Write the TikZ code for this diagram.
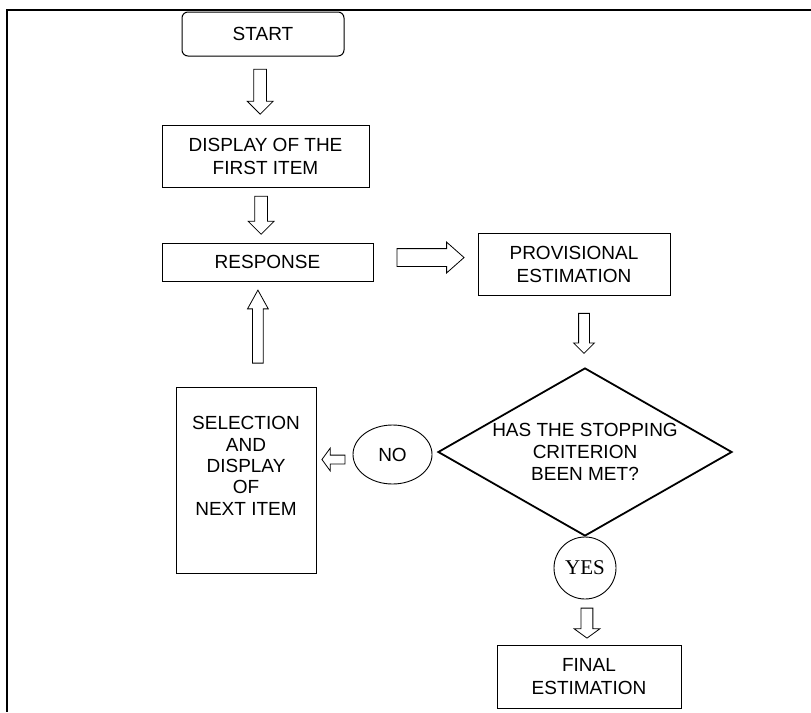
\documentclass[tikz,border=0pt]{standalone}
\usepackage{fontspec}
\setmainfont{Liberation Sans}
\newfontfamily\yesfont{Liberation Serif}
\usetikzlibrary{shapes, shapes.geometric, shapes.arrows, positioning}
\tikzstyle{block}=[draw,fill=white,rectangle,line width=1pt,align=center,inner sep=0pt]
\tikzstyle{every node}=[font=\fontsize{19}{23}\selectfont]
\tikzstyle{blockarrow}=[draw,single arrow,line width=.8pt,inner sep=6pt,minimum width=0pt,single arrow head extend=6.5pt]
\tikzstyle{downarrow}=[blockarrow,shape border rotate=270]
\tikzstyle{uparrow}=[blockarrow,shape border rotate=90]
\tikzstyle{leftarrow}=[blockarrow,shape border rotate=180]
\tikzstyle{rightarrow}=[blockarrow]

\begin{document}
\begin{tikzpicture}[x=1pt,y=-1pt]
  \useasboundingbox (0,0) rectangle (811,712);
  \draw[line width=1.6pt] (811,10) -| (7,712);
  \node[block, rounded corners=6pt, minimum width=162pt, minimum height=44pt] (start) at (263,34) {START};
  \node[block, below of=start, node distance=122pt, xshift=2.5pt, minimum width=207pt, minimum height=62pt] (display) {DISPLAY OF THE\\FIRST ITEM};
  \node[block, below of=display, node distance=106pt, xshift=2pt, minimum width=211pt, minimum height=38pt] (response) {RESPONSE};
  \node[block, right of=response, node distance=306.5pt, yshift=-2pt, minimum width=192pt, minimum height=62pt] (prov) {PROVISIONAL\\ESTIMATION};
  \node[block, diamond, aspect=1.75, line width=1.8pt, font=\fontsize{19}{22}\selectfont, below of=prov, node distance=188pt, xshift=11pt, minimum width=294pt, minimum height=168pt] (crit) {HAS THE STOPPING\\CRITERION\\BEEN MET?};
  \node[draw, circle, line width=.9pt, inner sep=0pt, minimum size=62pt, font=\yesfont\fontsize{21}{21}\selectfont, below of=crit, node distance=116pt] (yes) {YES};
  \node[block, below of=yes, node distance=108.5pt, xshift=4pt, minimum width=184pt, minimum height=63pt] (final) {FINAL\\ESTIMATION};
  \node[draw, ellipse, line width=.9pt, inner sep=0pt, minimum width=79pt, minimum height=59pt, left of=crit, node distance=192.5pt, yshift=-2.5pt] (no) {NO};
  \node[block, left of=no, node distance=146.5pt, yshift=-25.5pt, minimum width=140pt, minimum height=186pt,
    label={[anchor=north, inner sep=0pt, align=center, font=\fontsize{19}{21.3}\selectfont, yshift=-30pt]north:SELECTION\\AND\\DISPLAY\\OF\\NEXT ITEM}] (sel) {};
  % block arrows
  \path (start) -- node[downarrow, minimum height=45pt, xshift=-4pt, yshift=2pt] {} (display);
  \path (display) -- node[downarrow, minimum height=38pt, xshift=-5.5pt, yshift=3pt] {} (response);
  \path (response) -- node[rightarrow, minimum height=67pt, inner sep=8.5pt, single arrow tip angle=83, yshift=5.5pt] {} (prov);
  \path (prov) -- node[downarrow, minimum height=40pt, inner sep=5pt, single arrow head extend=5pt, xshift=6pt, yshift=2pt] {} (crit);
  \path (yes) -- node[downarrow, minimum height=30pt, inner sep=5.5pt, single arrow head extend=7pt, single arrow tip angle=108, yshift=1pt] {} (final);
  \path (sel) -- node[uparrow, minimum height=73pt, inner sep=5pt, single arrow head extend=5pt, single arrow tip angle=58, xshift=-2.5pt, yshift=2.5pt] {} (response);
  \path (no) -- node[leftarrow, minimum height=23pt, inner sep=4pt, single arrow head extend=7pt, single arrow tip angle=108, yshift=5pt] {} (sel);
\end{tikzpicture}
\end{document}
